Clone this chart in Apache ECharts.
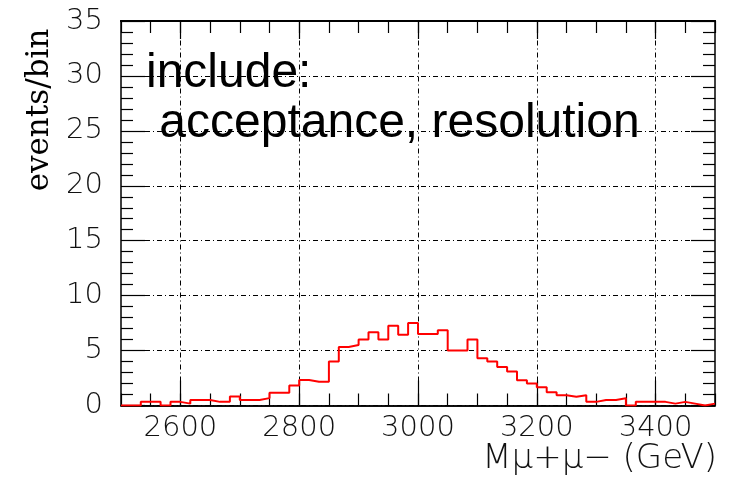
<!DOCTYPE html>
<html>
<head>
<meta charset="utf-8">
<script src="https://cdn.jsdelivr.net/npm/echarts@6/dist/echarts.min.js"></script>
<style>
  html, body { margin: 0; padding: 0; background: #fff; }
  #chart { width: 730px; height: 478px; }
</style>
</head>
<body>
<div id="chart"></div>
<script>
// Dimuon invariant mass spectrum: 60 equal bins between 2500 and 3500 GeV
const massRange = [2500, 3500];
const binCount = 60;
const eventsPerBin = [
  0, 0, 0.33, 0.33, 0, 0.33, 0.17, 0.5, 0.5, 0.33,
  0.33, 0.83, 0.5, 0.5, 0.67, 1.17, 1.17, 1.83, 2.33, 2.17,
  2.17, 4.0, 5.33, 5.5, 6.0, 6.67, 6.0, 7.25, 6.45, 7.5,
  6.5, 6.5, 6.85, 5.0, 5.0, 6.0, 4.3, 4.0, 3.5, 3.1,
  2.3, 2.0, 1.67, 1.2, 0.93, 0.8, 0.93, 0.33, 0.5, 0.5,
  0.65, 0, 0.33, 0.33, 0.33, 0.17, 0.33, 0.17, 0, 0.17
];
const massTicks = [2600, 2800, 3000, 3200, 3400];
const countRange = [0, 35];
const countStep = 5;

// Step outline: each bin's lower edge carries its content, closed at the upper edge
const binWidth = (massRange[1] - massRange[0]) / binCount;
const stepPoints = eventsPerBin.map((v, i) => [massRange[0] + i * binWidth, v]);
stepPoints.push([massRange[1], eventsPerBin[binCount - 1]]);

const tickFont = {
  fontFamily: '"DejaVu Sans", sans-serif',
  fontWeight: 200,
  fontSize: 29,
  color: '#111'
};
const plainNumber = v => String(v);
const dashDot = [5, 3, 1, 3];
const frame = { color: '#000', width: 1.5 };
const tickLine = { color: '#000', width: 1.2 };

// Mass axes: minor ticks every 50 GeV, long ticks at the labelled values
function massAxis(position, withLabels, major) {
  return {
    type: 'value',
    position: position,
    min: massRange[0],
    max: massRange[1],
    interval: 50,
    axisLine: { show: true, onZero: false,
      lineStyle: position === 'top' ? { color: '#000', width: 2 } : frame },
    axisTick: major
      ? { show: true, inside: true, length: position === 'top' ? 18 : 25, customValues: massTicks, lineStyle: tickLine }
      : { show: true, inside: true, length: 12, lineStyle: tickLine },
    axisLabel: withLabels
      ? Object.assign({ show: true, customValues: massTicks, margin: 8, formatter: plainNumber }, tickFont)
      : { show: false },
    splitLine: { show: false }
  };
}

function countAxis(position, withLabels) {
  return {
    type: 'value',
    position: position,
    min: countRange[0],
    max: countRange[1],
    interval: countStep,
    axisLine: { show: true, onZero: false, lineStyle: frame },
    axisTick: { show: true, inside: true, length: 24, lineStyle: tickLine },
    minorTick: { show: true, splitNumber: 5, length: 12, lineStyle: tickLine },
    axisLabel: withLabels
      ? Object.assign({ show: true, margin: 18, formatter: plainNumber }, tickFont)
      : { show: false },
    splitLine: withLabels
      ? { show: true, lineStyle: { color: '#000', width: 1, type: dashDot } }
      : { show: false }
  };
}

const xBottom = massAxis('bottom', true, false);
xBottom.name = 'M\u03bc+\u03bc\u2212 (GeV)';
xBottom.nameLocation = 'end';
xBottom.nameGap = 2;
xBottom.nameTextStyle = Object.assign({}, tickFont, {
  fontSize: 34, align: 'right', verticalAlign: 'top', padding: [37, 0, 0, 0]
});

const chart = echarts.init(document.getElementById('chart'), null, { renderer: 'canvas' });
chart.setOption({
  animation: false,
  backgroundColor: '#fff',
  grid: { left: 121, right: 15, top: 21, bottom: 72.5, containLabel: false },
  xAxis: [
    xBottom,
    massAxis('bottom', false, true),
    massAxis('top', false, false),
    massAxis('top', false, true)
  ],
  yAxis: [
    countAxis('left', true),
    countAxis('right', false)
  ],
  series: [
    {
      // vertical grid lines at the labelled mass values
      type: 'line',
      data: [],
      xAxisIndex: 0,
      yAxisIndex: 0,
      silent: true,
      markLine: {
        z: 1,
        silent: true,
        symbol: ['none', 'none'],
        label: { show: false },
        lineStyle: { color: '#000', width: 1, type: dashDot },
        data: massTicks.map(v => ({ xAxis: v }))
      }
    },
    {
      type: 'line',
      name: 'events/bin',
      z: 10,
      xAxisIndex: 0,
      yAxisIndex: 0,
      step: 'end',
      showSymbol: false,
      symbol: 'none',
      data: stepPoints,
      lineStyle: { color: '#ff0000', width: 2 }
    }
  ],
  graphic: [
    {
      type: 'text',
      x: 146,
      y: 49,
      z: 100,
      style: {
        text: 'include:\n acceptance, resolution',
        font: '48px "Liberation Sans", Arial, sans-serif',
        fill: '#000',
        lineHeight: 50
      }
    },
    {
      type: 'text',
      x: 40,
      y: 110,
      rotation: Math.PI / 2,
      style: {
        text: 'events/bin',
        font: '31px "DejaVu Serif", serif',
        fill: '#000',
        align: 'center',
        verticalAlign: 'middle'
      }
    },
    {
      type: 'text',
      x: -6,
      y: 444,
      style: {
        text: 'o',
        font: '20px "DejaVu Sans", sans-serif',
        fill: '#333',
        align: 'center',
        verticalAlign: 'middle'
      }
    }
  ]
});
</script>
</body>
</html>
